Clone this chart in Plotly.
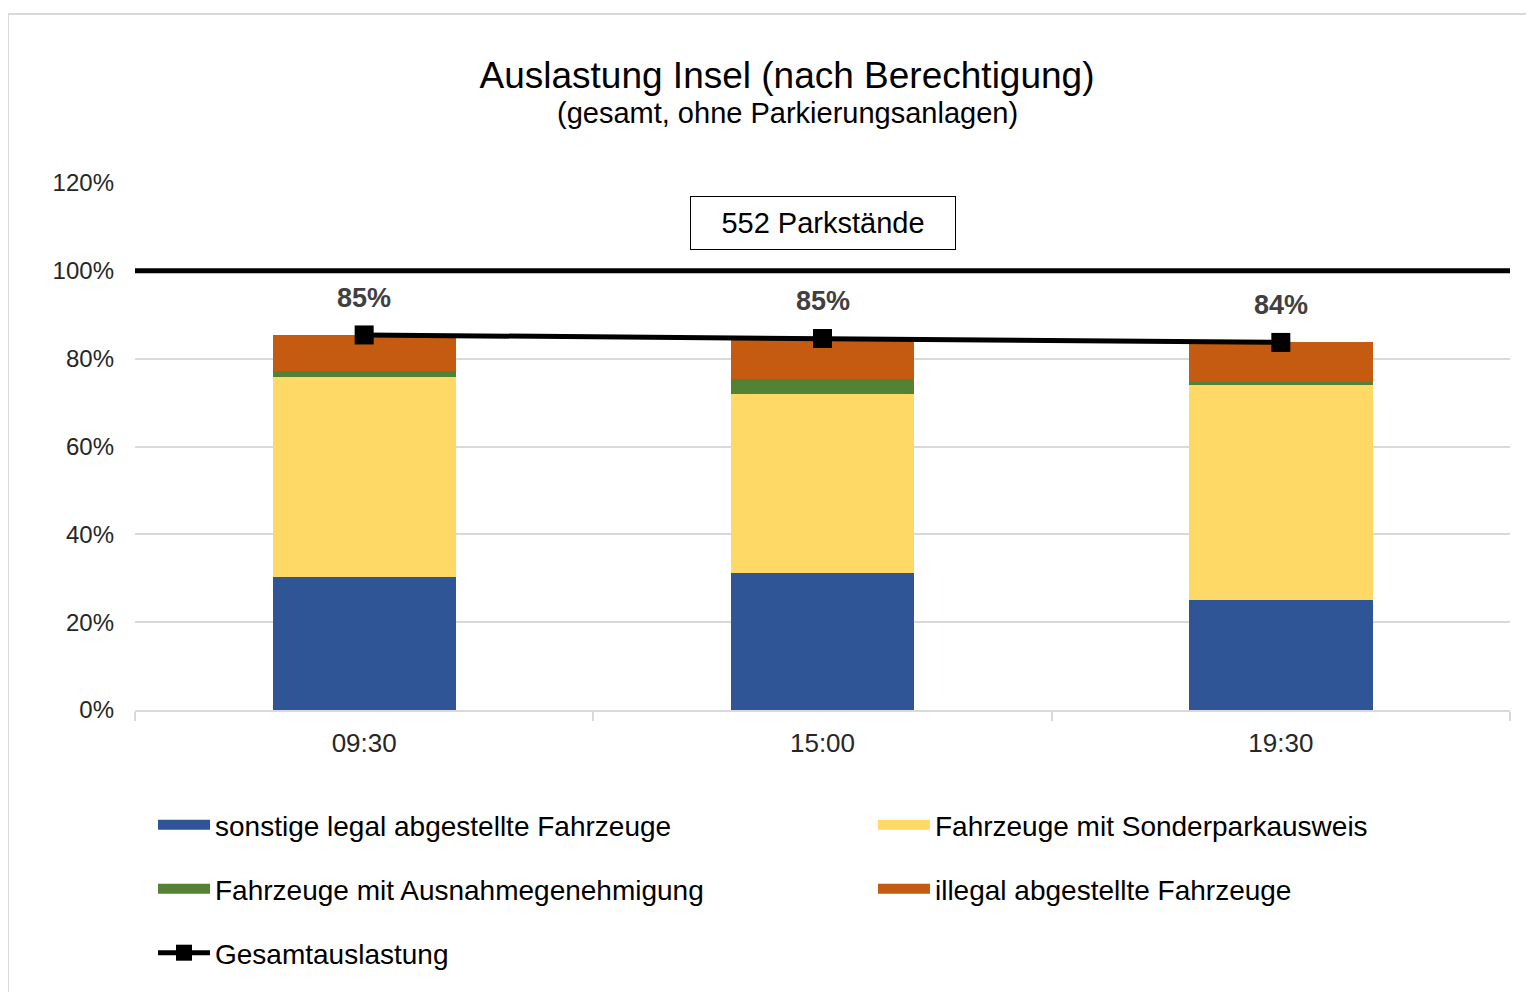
import plotly.graph_objects as go

# data (percent of 552 parking spaces)
zeiten = ["09:30", "15:00", "19:30"]
sonstige_legal = [30.3, 31.2, 25.0]
sonderparkausweis = [45.6, 40.8, 49.1]
ausnahmegenehmigung = [1.4, 3.4, 0.7]
illegal = [8.1, 9.2, 8.9]
gesamt = [85.4, 84.6, 83.7]

y_ticks = [0, 20, 40, 60, 80, 100, 120]
kapazitaet = 100
parkstaende = 552

FONT = "Liberation Sans, Arial, sans-serif"

# page body has an 8px margin, so the figure is 8px smaller than the window
W, H = 1526, 984
L, R, T, B = 127, 24, 175, 282

# legend slots (column x, row y) in paper coordinates
col_x = [0.0131, 0.5367]
row_y = [-0.2182, -0.3397, -0.4611]

fig = go.Figure()

# stacked bars (first trace sits at the bottom)
bar_series = [
    ("sonstige legal abgestellte Fahrzeuge", sonstige_legal, "#2F5597", "legend"),
    ("Fahrzeuge mit Sonderparkausweis", sonderparkausweis, "#FFD966", "legend2"),
    ("Fahrzeuge mit Ausnahmegenehmigung", ausnahmegenehmigung, "#548235", "legend3"),
    ("illegal abgestellte Fahrzeuge", illegal, "#C55A11", "legend4"),
]
for name, vals, col, leg in bar_series:
    fig.add_trace(go.Bar(
        x=zeiten, y=vals, name=name,
        marker=dict(color=col, line=dict(width=0)),
        legendgroup=name, showlegend=False,
    ))
    # wide legend key like the original
    fig.add_trace(go.Scatter(
        x=[None], y=[None], name=name, mode="lines",
        line=dict(color=col, width=14),
        legendgroup=name, legend=leg, hoverinfo="skip",
    ))

# total line
fig.add_trace(go.Scatter(
    x=zeiten, y=gesamt, name="Gesamtauslastung",
    mode="lines+markers",
    line=dict(color="black", width=5),
    marker=dict(symbol="square", size=19, color="black"),
    legend="legend5",
))

# value labels above the markers
for z, g in zip(zeiten, gesamt):
    fig.add_annotation(
        x=z, y=g, text=f"{g:.0f}%", showarrow=False,
        yshift=37, font=dict(family=FONT, size=27, color="#404040", weight="bold"),
    )

# capacity line at 100%
fig.add_shape(type="line", xref="paper", x0=0, x1=1, y0=kapazitaet, y1=kapazitaet,
              line=dict(color="black", width=5))

# box with number of parking spaces
fig.add_annotation(
    xref="paper", x=0.5, y=111.0, text=f"{parkstaende} Parkstände", showarrow=False,
    font=dict(family=FONT, size=29, color="black"),
    bordercolor="black", borderwidth=1, borderpad=6, width=252, height=40,
    bgcolor="white",
)

# subtitle
fig.add_annotation(
    xref="paper", yref="paper", x=0.4742, y=1.1328, yanchor="middle",
    text="(gesamt, ohne Parkierungsanlagen)", showarrow=False,
    font=dict(family=FONT, size=29, color="black"),
)

# light chart border
fig.add_shape(type="rect", xref="paper", yref="paper",
              x0=-0.0924, x1=1.2, y0=-0.7, y1=1.3207,
              line=dict(color="#d9d9d9", width=2), layer="below")

def legend_at(cx, ry):
    return dict(
        x=cx, y=ry, orientation="h", xanchor="left", yanchor="middle",
        itemwidth=52, traceorder="normal",
        font=dict(family=FONT, size=28, color="black"),
        bgcolor="rgba(0,0,0,0)",
    )

fig.update_layout(
    width=W, height=H,
    margin=dict(l=L, r=R, t=T, b=B),
    paper_bgcolor="white", plot_bgcolor="white",
    barmode="stack", bargap=0.6,
    font=dict(family=FONT, color="#262626"),
    title=dict(
        text="Auslastung Insel (nach Berechtigung)",
        x=(787 - 8) / W, xanchor="center", xref="container",
        y=1 - 67 / H, yanchor="middle", yref="container",
        font=dict(family=FONT, size=37, color="black"),
    ),
    legend=legend_at(col_x[0], row_y[0]),
    legend2=legend_at(col_x[1], row_y[0]),
    legend3=legend_at(col_x[0], row_y[1]),
    legend4=legend_at(col_x[1], row_y[1]),
    legend5=legend_at(col_x[0], row_y[2]),
    showlegend=True,
)

fig.update_yaxes(
    range=[0, 120], tickvals=y_ticks, ticktext=[f"{t}%" for t in y_ticks],
    showgrid=True, gridcolor="#d9d9d9", gridwidth=2,
    zeroline=False, showline=False, ticks="",
    tickfont=dict(family=FONT, size=24, color="#262626"),
    ticklabelstandoff=20,
)
fig.update_xaxes(
    showline=True, linecolor="#d9d9d9", linewidth=2,
    ticks="outside", tickson="boundaries", ticklen=9, tickcolor="#d9d9d9", tickwidth=2,
    tickfont=dict(family=FONT, size=26, color="#262626"),
    ticklabelstandoff=9,
    showgrid=False,
)

fig.write_html("out.html")
